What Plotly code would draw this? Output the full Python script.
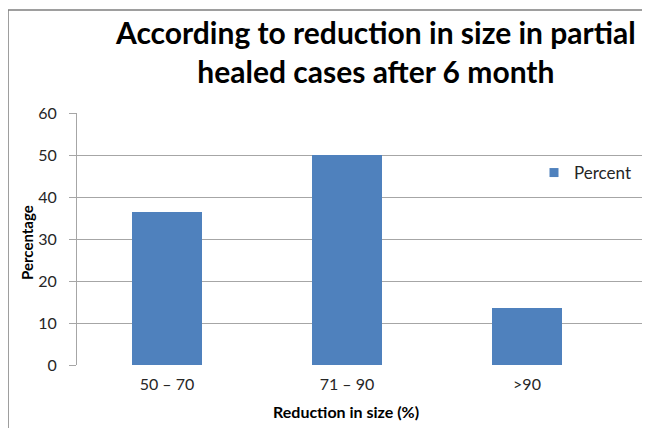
import plotly.graph_objects as go

categories = ["50 – 70", "71 – 90", ">90"]
percent = [36.36, 50.0, 13.64]
y_ticks = [0, 10, 20, 30, 40, 50, 60]

W, H = 650, 428
OX, OY = 8, 8  # page offset of the figure inside the browser window

# plot area in screen pixels
SL, SR, ST, SB = 77, 645, 113, 365
L = SL - OX
T = ST - OY
R = W - (SR - OX)
B = H - (SB - OY)
pw, ph = W - L - R, H - T - B


def px(sx):
    return (sx - OX - L) / pw


def py(sy):
    return (H - B - (sy - OY)) / ph


font = "Lato, Carlito, 'Open Sans', sans-serif"
blue = "#4F81BD"

fig = go.Figure()
fig.add_trace(go.Bar(
    x=list(range(len(categories))), y=percent, name="Percent",
    marker=dict(color=blue, line=dict(width=0)),
    width=0.39, showlegend=False,
))
fig.add_trace(go.Scatter(
    x=[None], y=[None], mode="markers", name="Percent",
    marker=dict(symbol="square", size=9, color=blue),
    showlegend=True,
))

fig.update_layout(
    width=W, height=H,
    margin=dict(l=L, r=R, t=T, b=B),
    paper_bgcolor="white", plot_bgcolor="white",
    font=dict(family=font, size=15, color="#262626"),
    showlegend=True,
    legend=dict(x=px(534), y=py(173), xanchor="left", yanchor="middle",
                bgcolor="rgba(0,0,0,0)", font=dict(size=17, color="#262626"),
                itemwidth=30),
    xaxis=dict(
        tickmode="array", tickvals=list(range(len(categories))), ticktext=categories,
        range=[-0.5, 2.5 + 28 / 180], showgrid=False, zeroline=False,
        showline=False, ticks="", tickfont=dict(size=16, color="#262626"),
        ticklabelstandoff=8,
    ),
    yaxis=dict(
        range=[0, 60], tickvals=y_ticks, showgrid=True, gridcolor="#A6A6A6", gridwidth=1,
        zeroline=False, showline=True, linecolor="#A6A6A6", linewidth=1,
        ticks="outside", ticklen=7, tickcolor="#A6A6A6",
        tickfont=dict(size=16, color="#262626"), ticklabelstandoff=9,
    ),
    bargap=0,
)

fig.add_annotation(
    text="<b>According to reduction in size in partial<br>healed cases after 6 month</b>",
    xref="paper", yref="paper", x=px(375), y=py(52), xanchor="center", yanchor="middle",
    showarrow=False, font=dict(size=30, color="#000000", family=font), align="center",
)
fig.add_annotation(
    text="<b>Percentage</b>", textangle=-90, xref="paper", yref="paper",
    x=px(27), y=py(243), xanchor="center", yanchor="middle", showarrow=False,
    font=dict(size=15, color="#000000", family=font),
)
fig.add_annotation(
    text="<b>Reduction in size (%)</b>", xref="paper", yref="paper",
    x=px(346), y=py(411), xanchor="center", yanchor="middle", showarrow=False,
    font=dict(size=16, color="#000000", family=font),
)

# chart frame (left and top edges visible)
fig.add_shape(type="path", xref="paper", yref="paper",
              path=f"M {px(8)},{py(460)} L {px(8)},{py(10)} L {px(680)},{py(10)}",
              line=dict(color="#7F7F7F", width=1.5))

fig.write_html("out.html")
